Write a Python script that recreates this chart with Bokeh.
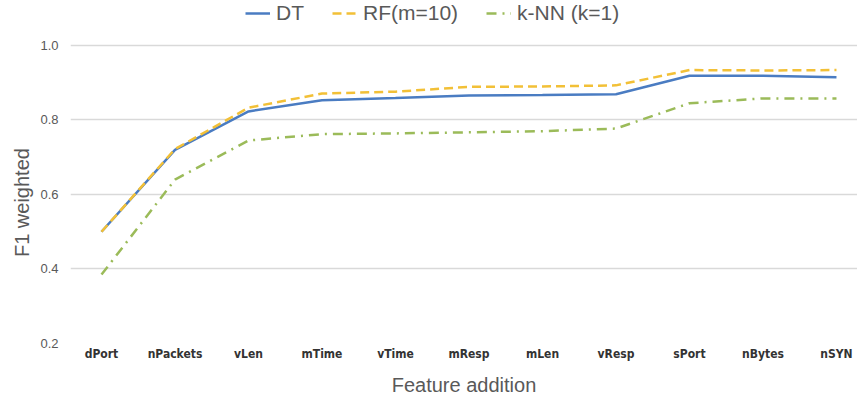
from bokeh.plotting import figure
from bokeh.models import Range1d, FixedTicker, Legend, LegendItem
from bokeh.embed import file_html
from bokeh.resources import INLINE

features = ["dPort", "nPackets", "vLen", "mTime", "vTime", "mResp", "mLen", "vResp", "sPort", "nBytes", "nSYN"]
dt = [0.500, 0.720, 0.823, 0.853, 0.859, 0.866, 0.867, 0.869, 0.919, 0.919, 0.915]
rf = [0.500, 0.722, 0.833, 0.871, 0.876, 0.889, 0.890, 0.893, 0.934, 0.933, 0.934]
knn = [0.385, 0.640, 0.745, 0.762, 0.764, 0.767, 0.770, 0.777, 0.845, 0.858, 0.858]
y_ticks = [0.2, 0.4, 0.6, 0.8, 1.0]

xs = list(range(len(features)))

p = figure(width=857, height=398, output_backend="svg", toolbar_location=None,
           x_range=Range1d(-0.422, 10.286), y_range=Range1d(0.2, 1.1208),
           min_border_left=70, min_border_right=0, min_border_top=0, min_border_bottom=55)
p.outline_line_color = None
p.background_fill_color = "white"

gray = "#595959"
l1 = p.line(xs, dt, line_color="#4a7cc2", line_width=2.5)
l2 = p.line(xs, rf, line_color="#f2c037", line_width=2.5, line_dash="9 5")
l3 = p.line(xs, knn, line_color="#9bbb59", line_width=2.5, line_dash="10 6 2 6")

p.xaxis.ticker = FixedTicker(ticks=xs)
p.xaxis.major_label_overrides = {i: f for i, f in enumerate(features)}
p.yaxis.ticker = FixedTicker(ticks=y_ticks)
p.yaxis.major_label_overrides = {t: f"{t:.1f}" for t in y_ticks}

for ax in (p.xaxis[0], p.yaxis[0]):
    ax.axis_line_color = None
    ax.major_tick_line_color = None
    ax.minor_tick_line_color = None
    ax.major_tick_out = 0
    ax.major_tick_in = 0
    ax.minor_tick_out = 0
    ax.major_label_text_color = gray
    ax.axis_label_text_color = gray
    ax.axis_label_text_font = "Liberation Sans"
    ax.axis_label_text_font_style = "normal"
    ax.axis_label_text_font_size = "20px"

p.xaxis.major_label_text_font = "DejaVu Sans Condensed"
p.xaxis.major_label_text_font_style = "bold"
p.xaxis.major_label_text_font_size = "12px"
p.xaxis.major_label_text_color = "#333333"
p.yaxis.major_label_text_font = "Liberation Sans"
p.yaxis.major_label_text_font_size = "13px"
p.xaxis.major_label_standoff = 3
p.yaxis.major_label_standoff = 12
p.xaxis.axis_label = "Feature addition"
p.yaxis.axis_label = "F1 weighted" + "\u00a0" * 11
p.xaxis.axis_label_standoff = 10
p.yaxis.axis_label_standoff = 4

p.xgrid.grid_line_color = None
p.ygrid.grid_line_color = "#d9d9d9"
p.ygrid.grid_line_width = 1.5

legend = Legend(items=[LegendItem(label="DT", renderers=[l1]),
                       LegendItem(label="RF(m=10)", renderers=[l2]),
                       LegendItem(label="k-NN (k=1)", renderers=[l3])],
                orientation="horizontal", location=(175, 318),
                label_text_font="Liberation Sans", label_text_font_size="21px",
                label_text_color=gray, glyph_width=25, label_standoff=6, spacing=28,
                border_line_color=None, background_fill_alpha=0,
                padding=0, margin=0)
p.add_layout(legend, "center")

open("out.html", "w").write(file_html(p, INLINE))
